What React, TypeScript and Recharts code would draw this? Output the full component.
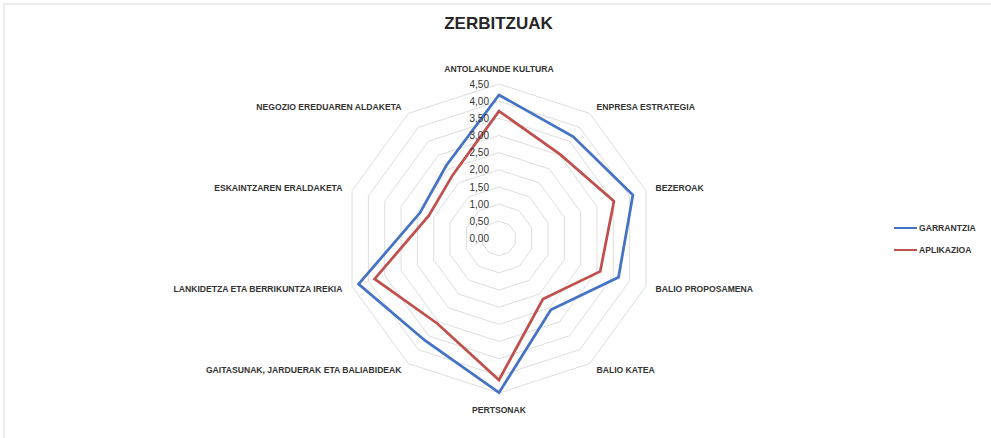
import { PolarAngleAxis, PolarGrid, PolarRadiusAxis, Radar, RadarChart } from "recharts";

const categories = [
  "ANTOLAKUNDE KULTURA",
  "ENPRESA ESTRATEGIA",
  "BEZEROAK",
  "BALIO PROPOSAMENA",
  "BALIO KATEA",
  "PERTSONAK",
  "GAITASUNAK, JARDUERAK ETA BALIABIDEAK",
  "LANKIDETZA ETA BERRIKUNTZA IREKIA",
  "ESKAINTZAREN ERALDAKETA",
  "NEGOZIO EREDUAREN ALDAKETA",
];

const garrantzia = [4.18, 3.67, 4.1, 3.66, 2.57, 4.49, 3.67, 4.3, 2.42, 2.62];
const aplikazioa = [3.71, 3.03, 3.52, 3.1, 2.18, 4.12, 3.06, 3.81, 2.15, 2.29];

const radiusTicks = [0, 0.5, 1, 1.5, 2, 2.5, 3, 3.5, 4, 4.5];

const series = [
  { key: "garrantzia", name: "GARRANTZIA", color: "#4472C4" },
  { key: "aplikazioa", name: "APLIKAZIOA", color: "#C0504D" },
];

const data = categories.map((name, i) => ({
  name,
  garrantzia: garrantzia[i],
  aplikazioa: aplikazioa[i],
}));

// recharts rounds the radius domain up to 5, so the outer ring (4,50)
// is drawn at gridRadius and the full radius is scaled from that
const axisMax = 5;
const gridRadius = 154.5;
const outerRadius = (gridRadius * axisMax) / radiusTicks[radiusTicks.length - 1];

const labelFont = "'Liberation Sans', Arial, sans-serif";

function AngleTick(props: any) {
  const { x, y, cx, cy, payload } = props;
  const dx = x - cx;
  const dy = y - cy;
  let anchor: "start" | "end" | "middle" = "middle";
  let tx = x;
  let ty = y;
  if (Math.abs(dx) < 1) {
    ty = dy < 0 ? y - 7 : y + 9;
  } else if (dx > 0) {
    anchor = "start";
    tx = x + 2;
  } else {
    anchor = "end";
    tx = x - 2;
  }
  return (
    <text
      x={tx}
      y={ty}
      textAnchor={anchor}
      dominantBaseline="central"
      fontFamily={labelFont}
      fontSize={8.6}
      fontWeight={700}
      fill="#333"
    >
      {payload.value}
    </text>
  );
}

function RadiusTick(props: any) {
  const { x, y, payload } = props;
  return (
    <text
      x={x - 10}
      y={y}
      textAnchor="end"
      dominantBaseline="central"
      fontFamily={labelFont}
      fontSize={10}
      fill="#333"
    >
      {Number(payload.value).toFixed(2).replace(".", ",")}
    </text>
  );
}

export default function App() {
  return (
    <div
      style={{
        position: "absolute",
        left: 0,
        top: 0,
        width: 991,
        height: 438,
        background: "#fff",
      }}
    >
      <div
        style={{
          position: "absolute",
          left: 3,
          top: 3,
          right: 0,
          bottom: 0,
          borderTop: "2px solid #ececec",
          borderLeft: "2px solid #ececec",
        }}
      />
      <div
        style={{
          position: "absolute",
          left: 0,
          top: 14,
          width: 997,
          textAlign: "center",
          fontFamily: labelFont,
          fontSize: 17,
          fontWeight: 700,
          color: "#262626",
        }}
      >
        ZERBITZUAK
      </div>
      <RadarChart
        width={991}
        height={438}
        data={data}
        cx={499}
        cy={238.5}
        outerRadius={outerRadius}
        margin={{ top: 0, right: 0, bottom: 0, left: 0 }}
        style={{ position: "absolute", left: 0, top: 0 }}
      >
        <PolarGrid gridType="polygon" radialLines={false} stroke="#dedede" />
        <PolarAngleAxis
          dataKey="name"
          tick={AngleTick}
          tickLine={false}
          axisLine={false}
          tickSize={gridRadius + 8 - outerRadius}
        />
        <PolarRadiusAxis
          angle={90}
          type="number"
          domain={[0, axisMax]}
          ticks={radiusTicks as any}
          tick={RadiusTick}
          axisLine={false}
          tickLine={false}
        />
        {series.map((s) => (
          <Radar
            key={s.key}
            name={s.name}
            dataKey={s.key}
            stroke={s.color}
            strokeWidth={2.75}
            fill="none"
            fillOpacity={0}
            dot={false}
            isAnimationActive={false}
          />
        ))}
      </RadarChart>
      <div style={{ position: "absolute", left: 894, top: 217 }}>
        {series.map((s) => (
          <div
            key={s.key}
            style={{ display: "flex", alignItems: "center", height: 22 }}
          >
            <div style={{ width: 23, height: 2, background: s.color, marginRight: 2 }} />
            <span
              style={{
                fontFamily: labelFont,
                fontSize: 8.6,
                fontWeight: 700,
                color: "#333",
              }}
            >
              {s.name}
            </span>
          </div>
        ))}
      </div>
    </div>
  );
}
